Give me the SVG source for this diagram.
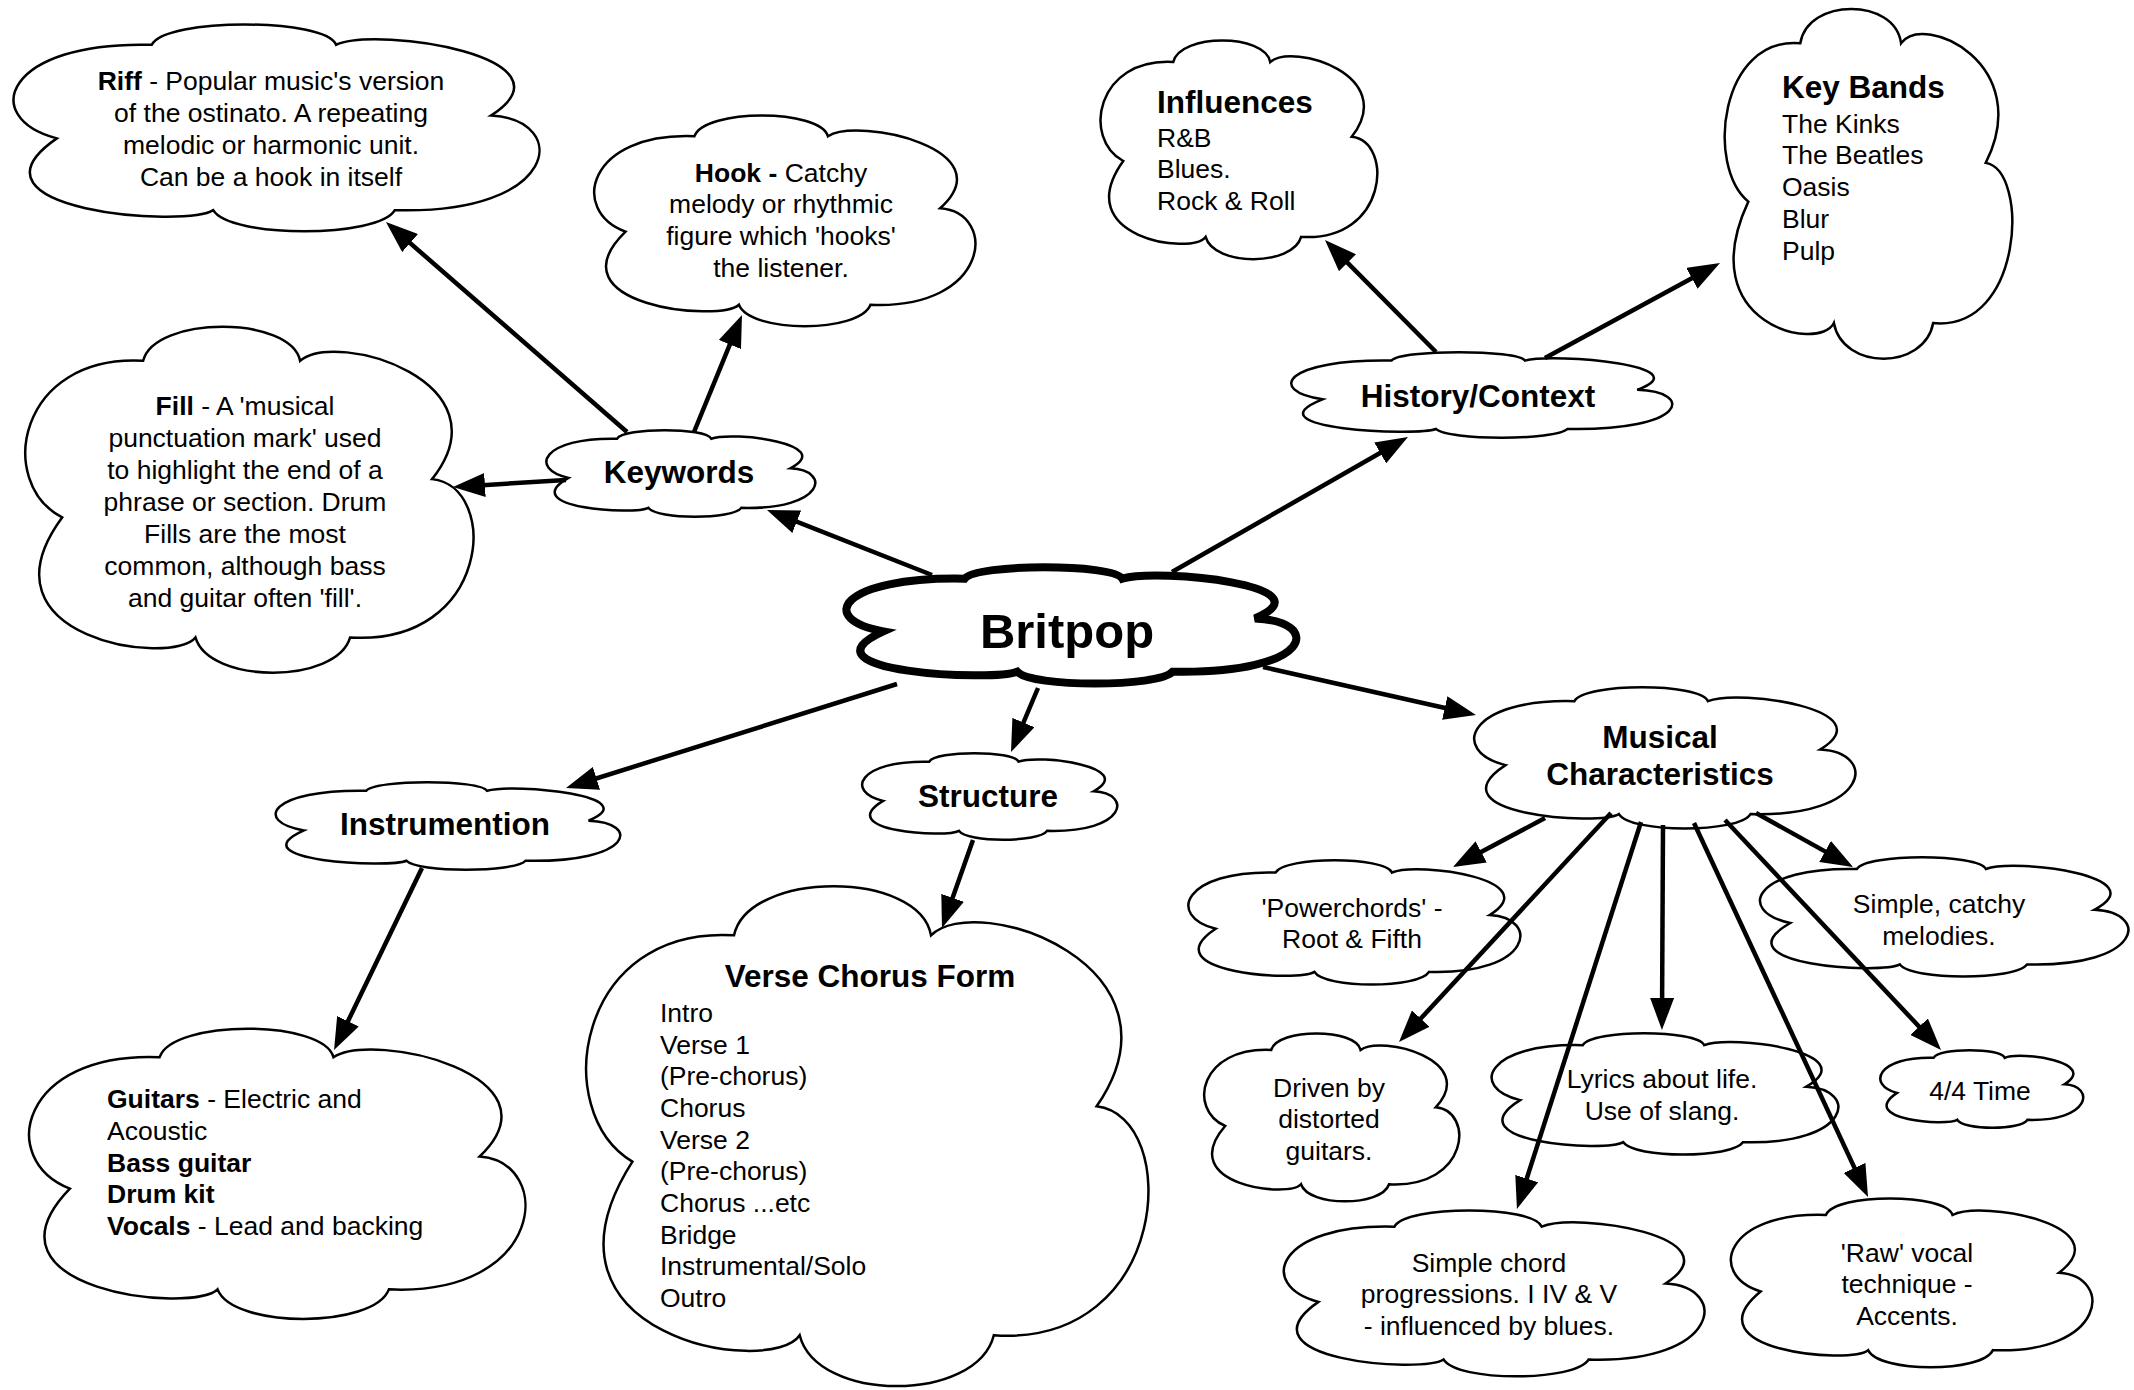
<svg xmlns="http://www.w3.org/2000/svg" width="2134" height="1390" viewBox="0 0 2134 1390">
<style>
.c{fill:#fff;stroke:#000;stroke-width:2.5}
.cb{fill:#fff;stroke:#000;stroke-width:8}
text{font-family:"Liberation Sans",Arial,Helvetica,sans-serif;font-size:26.5px;fill:#000}
.t{font-weight:bold;font-size:31.5px}
.big{font-weight:bold;font-size:49px}
.m{text-anchor:middle}
.b{font-weight:bold}
#connectors line{stroke:#000;stroke-width:4.5;marker-end:url(#ah)}
</style>
<defs>
<path id="cloud" vector-effect="non-scaling-stroke" d="M9.7,55 C-5,45 0,8 27.5,10 C30,-3 60,-3 62,10 C70,1 108,16 91,44 C106,46 104,92 73,89.5 C70,103 42,103 39,89.5 C34,98 -10,90 9.7,55 Z"/>
<marker id="ah" markerUnits="userSpaceOnUse" markerWidth="32" markerHeight="24" viewBox="0 0 32 24" refX="22" refY="12" orient="auto"><path d="M0,0 L32,12 L0,24 z" fill="#000"/></marker>
</defs>
<rect width="2134" height="1390" fill="#fff"/>

<g id="riff"><use href="#cloud" class="c" transform="translate(5,24) scale(5.34,2.08)"/>
<text class="m" x="271" y="90"><tspan class="b">Riff</tspan> - Popular music's version</text>
<text class="m" x="271" y="122">of the ostinato. A repeating</text>
<text class="m" x="271" y="154">melodic or harmonic unit.</text>
<text class="m" x="271" y="186">Can be a hook in itself</text></g>

<g id="hook"><use href="#cloud" class="c" transform="translate(588,115) scale(3.87,2.12)"/>
<text class="m" x="781" y="182"><tspan class="b">Hook -</tspan> Catchy</text>
<text class="m" x="781" y="213">melody or rhythmic</text>
<text class="m" x="781" y="245">figure which 'hooks'</text>
<text class="m" x="781" y="277">the listener.</text></g>

<g id="fill"><use href="#cloud" class="c" transform="translate(18,326) scale(4.55,3.48)"/>
<text class="m" x="245" y="415"><tspan class="b">Fill</tspan> - A 'musical</text>
<text class="m" x="245" y="447">punctuation mark' used</text>
<text class="m" x="245" y="479">to highlight the end of a</text>
<text class="m" x="245" y="511">phrase or section. Drum</text>
<text class="m" x="245" y="543">Fills are the most</text>
<text class="m" x="245" y="575">common, although bass</text>
<text class="m" x="245" y="607">and guitar often 'fill'.</text></g>

<g id="keywords"><use href="#cloud" class="c" transform="translate(542,430) scale(2.73,0.87)"/>
<text class="m t" x="679" y="483">Keywords</text></g>

<g id="britpop"><use href="#cloud" class="cb" transform="translate(839,567) scale(4.57,1.17)"/>
<text class="m big" x="1067" y="648">Britpop</text></g>

<g id="influences"><use href="#cloud" class="c" transform="translate(1096,40) scale(2.81,2.2)"/>
<text class="t" x="1157" y="113">Influences</text>
<text x="1157" y="147">R&amp;B</text>
<text x="1157" y="178">Blues.</text>
<text x="1157" y="210">Rock &amp; Roll</text></g>

<g id="keybands"><use href="#cloud" class="c" transform="translate(1720,8) scale(2.92,3.52)"/>
<text class="t" x="1782" y="98">Key Bands</text>
<text x="1782" y="133">The Kinks</text>
<text x="1782" y="164">The Beatles</text>
<text x="1782" y="196">Oasis</text>
<text x="1782" y="228">Blur</text>
<text x="1782" y="260">Pulp</text></g>

<g id="history"><use href="#cloud" class="c" transform="translate(1285,352) scale(3.87,0.86)"/>
<text class="m t" x="1478" y="407">History/Context</text></g>

<g id="musical"><use href="#cloud" class="c" transform="translate(1468,687) scale(3.87,1.42)"/>
<text class="m t" x="1660" y="748">Musical</text>
<text class="m t" x="1660" y="785">Characteristics</text></g>

<g id="instrumention"><use href="#cloud" class="c" transform="translate(270,782) scale(3.5,0.88)"/>
<text class="m t" x="445" y="835">Instrumention</text></g>

<g id="structure"><use href="#cloud" class="c" transform="translate(858,753) scale(2.59,0.87)"/>
<text class="m t" x="988" y="807">Structure</text></g>

<g id="verse"><use href="#cloud" class="c" transform="translate(577,885) scale(5.71,5.03)"/>
<text class="m t" x="870" y="987">Verse Chorus Form</text>
<text x="660" y="1022">Intro</text>
<text x="660" y="1054">Verse 1</text>
<text x="660" y="1085">(Pre-chorus)</text>
<text x="660" y="1117">Chorus</text>
<text x="660" y="1149">Verse 2</text>
<text x="660" y="1180">(Pre-chorus)</text>
<text x="660" y="1212">Chorus ...etc</text>
<text x="660" y="1244">Bridge</text>
<text x="660" y="1275">Instrumental/Solo</text>
<text x="660" y="1307">Outro</text></g>

<g id="guitars"><use href="#cloud" class="c" transform="translate(21,1028) scale(5.04,2.92)"/>
<text x="107" y="1108"><tspan class="b">Guitars</tspan> - Electric and</text>
<text x="107" y="1140">Acoustic</text>
<text x="107" y="1172" class="b">Bass guitar</text>
<text x="107" y="1203" class="b">Drum kit</text>
<text x="107" y="1235"><tspan class="b">Vocals</tspan> - Lead and backing</text></g>

<g id="powerchords"><use href="#cloud" class="c" transform="translate(1183,860) scale(3.37,1.25)"/>
<text class="m" x="1352" y="917">'Powerchords' -</text>
<text class="m" x="1352" y="948">Root &amp; Fifth</text></g>

<g id="catchy"><use href="#cloud" class="c" transform="translate(1754,857) scale(3.74,1.2)"/>
<text class="m" x="1939" y="913">Simple, catchy</text>
<text class="m" x="1939" y="945">melodies.</text></g>

<g id="driven"><use href="#cloud" class="c" transform="translate(1200,1033) scale(2.59,1.69)"/>
<text class="m" x="1329" y="1097">Driven by</text>
<text class="m" x="1329" y="1128">distorted</text>
<text class="m" x="1329" y="1160">guitars.</text></g>

<g id="lyrics"><use href="#cloud" class="c" transform="translate(1486,1033) scale(3.52,1.22)"/>
<text class="m" x="1662" y="1088">Lyrics about life.</text>
<text class="m" x="1662" y="1120">Use of slang.</text></g>

<g id="time"><use href="#cloud" class="c" transform="translate(1877,1050) scale(2.06,0.78)"/>
<text class="m" x="1980" y="1100">4/4 Time</text></g>

<g id="chord"><use href="#cloud" class="c" transform="translate(1277,1210) scale(4.27,1.67)"/>
<text class="m" x="1489" y="1272">Simple chord</text>
<text class="m" x="1489" y="1303">progressions. I IV &amp; V</text>
<text class="m" x="1489" y="1335">- influenced by blues.</text></g>

<g id="raw"><use href="#cloud" class="c" transform="translate(1725,1198) scale(3.67,1.7)"/>
<text class="m" x="1907" y="1262">'Raw' vocal</text>
<text class="m" x="1907" y="1293">technique -</text>
<text class="m" x="1907" y="1325">Accents.</text></g>

<g id="connectors">
<line x1="932" y1="575" x2="776.3" y2="513.7"/>
<line x1="1172" y1="572" x2="1399.3" y2="442"/>
<line x1="1263" y1="667" x2="1466.2" y2="712.8"/>
<line x1="1038" y1="688" x2="1014.9" y2="742.8"/>
<line x1="897" y1="684" x2="575.5" y2="785"/>
<line x1="627" y1="432" x2="393.5" y2="228.6"/>
<line x1="694" y1="432" x2="738.2" y2="324.2"/>
<line x1="566" y1="480" x2="463" y2="486.4"/>
<line x1="1436" y1="352" x2="1332" y2="247.1"/>
<line x1="1545" y1="358" x2="1711.2" y2="267.8"/>
<line x1="973" y1="840" x2="945.3" y2="918.6"/>
<line x1="422" y1="868" x2="338.4" y2="1041"/>
<line x1="1545" y1="818" x2="1461.8" y2="862.3"/>
<line x1="1611" y1="813" x2="1405.8" y2="1034.7"/>
<line x1="1641" y1="822" x2="1520" y2="1199.5"/>
<line x1="1663" y1="825" x2="1662" y2="1020"/>
<line x1="1694" y1="823" x2="1863.8" y2="1187.9"/>
<line x1="1725" y1="820" x2="1934.2" y2="1042.7"/>
<line x1="1756" y1="813" x2="1844.3" y2="862.1"/>
</g>
</svg>
